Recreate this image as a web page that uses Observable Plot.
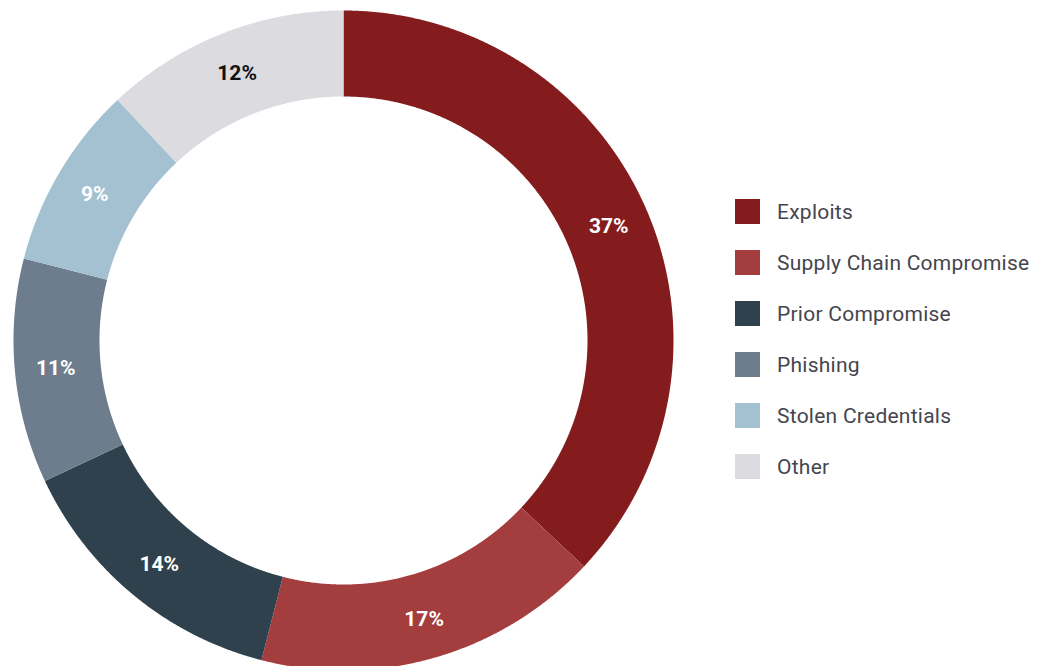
<!DOCTYPE html>
<html>
<head>
<meta charset="utf-8">
<script src="https://cdn.jsdelivr.net/npm/d3@7"></script>
<script src="https://cdn.jsdelivr.net/npm/@observablehq/plot@0.6"></script>
<style>
  html, body { margin: 0; padding: 0; background: #fff; }
  #wrap { position: relative; width: 1047px; height: 666px; overflow: hidden; }
  #legend { position: absolute; left: 735px; top: 199px; font-family: Roboto, "Noto Sans", sans-serif; }
  .item { display: flex; align-items: center; height: 25px; margin-bottom: 26px; }
  .sw { width: 25px; height: 25px; margin-right: 17px; flex: none; }
  .lb { font-size: 21px; color: #45454d; letter-spacing: 0.25px; white-space: nowrap; }
</style>
</head>
<body>
<div id="wrap"><div id="chart"></div><div id="legend"></div></div>
<script>
const categories = ["Exploits", "Supply Chain Compromise", "Prior Compromise", "Phishing", "Stolen Credentials", "Other"];
const values = [37, 17, 14, 11, 9, 12];
const colors = ["#841c1e", "#a33d3e", "#2f414c", "#6e7d8e", "#a3c1d1", "#dcdbe0"];
const labelColors = ["#ffffff", "#ffffff", "#ffffff", "#ffffff", "#ffffff", "#111111"];

const R_OUT = 330, R_IN = 244;
const pie = d3.pie().sort(null).value(d => d.value)(categories.map((c, i) => ({cat: c, value: values[i], lc: labelColors[i]})));

const pts = [];
pie.forEach(s => {
  const n = Math.max(2, Math.ceil((s.endAngle - s.startAngle) / 0.004));
  for (let k = 0; k <= n; k++) {
    const a = s.startAngle + (s.endAngle - s.startAngle) * k / n;
    pts.push({cat: s.data.cat, x: R_OUT * Math.sin(a), y: R_OUT * Math.cos(a)});
  }
  for (let k = n; k >= 0; k--) {
    const a = s.startAngle + (s.endAngle - s.startAngle) * k / n;
    pts.push({cat: s.data.cat, x: R_IN * Math.sin(a), y: R_IN * Math.cos(a)});
  }
});
const labels = pie.map(s => {
  const a = (s.startAngle + s.endAngle) / 2, r = (R_OUT + R_IN) / 2 + 2;
  return {cat: s.data.cat, text: s.data.value + "%", x: r * Math.sin(a), y: r * Math.cos(a), lc: s.data.lc};
});

const chart = Plot.plot({
  width: 1047, height: 666,
  margin: 0,
  x: {domain: [-R_OUT, R_OUT], range: [13, 673], axis: null},
  y: {domain: [-R_OUT, R_OUT], range: [670, 10], axis: null},
  color: {domain: categories, range: colors},
  style: {background: "#fff"},
  marks: [
    Plot.line(pts, {x: "x", y: "y", z: "cat", fill: "cat", stroke: "none", curve: "linear-closed"}),
    Plot.text(labels, {x: "x", y: "y", text: "text", fill: d => d.lc, fontSize: 21, fontWeight: 700,
      fontFamily: "Roboto, 'Noto Sans', sans-serif", textAnchor: "middle", dy: 1})
  ]
});
document.getElementById("chart").appendChild(chart);

const leg = document.getElementById("legend");
categories.forEach((c, i) => {
  const it = document.createElement("div"); it.className = "item";
  const sw = document.createElement("div"); sw.className = "sw"; sw.style.background = colors[i];
  const lb = document.createElement("div"); lb.className = "lb"; lb.textContent = c;
  it.appendChild(sw); it.appendChild(lb); leg.appendChild(it);
});
</script>
</body>
</html>
